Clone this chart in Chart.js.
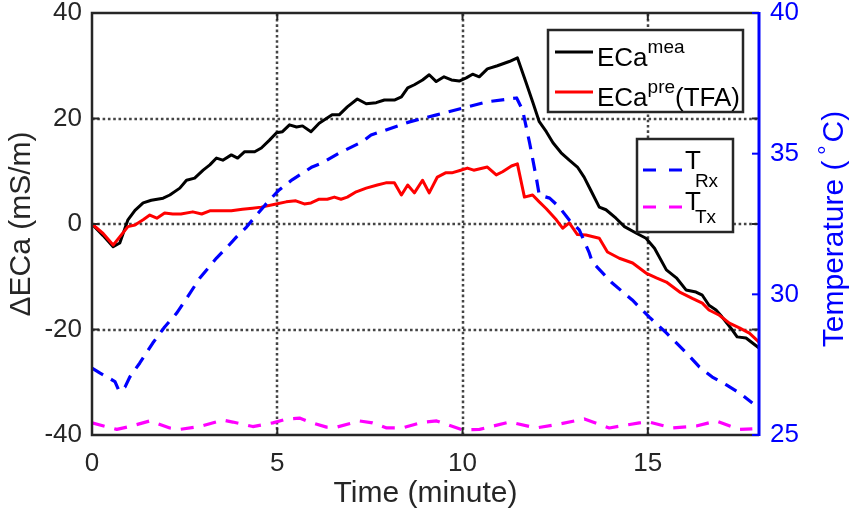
<!DOCTYPE html>
<html>
<head>
<meta charset="utf-8">
<script src="https://cdn.jsdelivr.net/npm/chart.js@4.4.1/dist/chart.umd.min.js"></script>
<style>
  body { margin: 0; background: #fff; }
  #wrap { position: relative; width: 852px; height: 513px; }
</style>
</head>
<body>
<div id="wrap"><canvas id="chart"></canvas></div>
<script>
const FONT = '"Liberation Sans", Arial, Helvetica, sans-serif';
const AXIS_COLOR = '#262626';
const BLUE = '#0000ff';

// measured ECa change (mS/m)
const meaTime = [0, 0.3, 0.57, 0.75, 0.97, 1.16, 1.38, 1.6, 1.92, 2.1, 2.37, 2.55, 2.77, 3.0, 3.18, 3.36, 3.53, 3.76, 3.93, 4.12,
  4.39, 4.57, 4.79, 4.98, 5.14, 5.33, 5.52, 5.68, 5.91, 6.13, 6.48, 6.67, 6.89, 7.16, 7.4, 7.67, 7.89, 8.16, 8.35, 8.52,
  8.7, 8.92, 9.1, 9.29, 9.5, 9.7, 9.91, 10.1, 10.27, 10.45, 10.67, 10.94, 11.26, 11.48, 11.72, 11.9, 12.07, 12.26, 12.44, 12.66,
  12.88, 13.1, 13.28, 13.46, 13.69, 13.87, 14.14, 14.37, 14.68, 14.95, 15.18, 15.5, 15.77, 16.03, 16.3, 16.47, 16.65, 16.84, 17.0, 17.28,
  17.41, 17.65, 18];
const meaValues = [0, -2.2, -4.3, -3.6, 0.8, 2.6, 4, 4.5, 4.9, 5.5, 6.8, 8.3, 8.7, 10.2, 11.2, 12.5, 12.1, 13.1, 12.5, 13.7,
  13.7, 14.4, 15.9, 17.3, 17.5, 18.8, 18.4, 18.6, 17.5, 19.1, 20.7, 20.7, 22.2, 23.7, 22.8, 23, 23.5, 23.5, 24.1, 25.8,
  26.4, 27.3, 28.3, 27, 27.9, 27.3, 27.1, 27.7, 28.4, 27.9, 29.4, 30, 30.8, 31.5, 26.7, 23, 19.4, 17.5, 15.4, 13.5,
  12.1, 10.8, 8.9, 6.4, 3.2, 2.7, 1.1, -0.5, -1.7, -2.7, -4.6, -8.7, -10.2, -12.5, -12.9, -13.5, -15.4, -16.3, -17.6, -20.1,
  -21.4, -21.6, -23.5];

// predicted ECa change, TFA correction (mS/m)
const preTime = [0, 0.3, 0.57, 0.97, 1.16, 1.38, 1.56, 1.75, 1.96, 2.18, 2.4, 2.72, 2.96, 3.18, 3.53, 3.76, 4.06, 4.33, 4.57, 4.97,
  5.24, 5.5, 5.73, 5.91, 6.13, 6.35, 6.54, 6.72, 6.89, 7.13, 7.4, 7.7, 7.93, 8.16, 8.35, 8.52, 8.7, 8.92, 9.1, 9.32,
  9.54, 9.71, 9.95, 10.13, 10.3, 10.67, 10.91, 11.08, 11.32, 11.48, 11.67, 11.89, 12.07, 12.26, 12.53, 12.7, 12.88, 13.1, 13.33, 13.69,
  13.91, 14.23, 14.59, 14.95, 15.23, 15.5, 15.86, 16.2, 16.47, 16.65, 16.93, 17.2, 17.47, 17.74, 18];
const preValues = [0, -1.8, -4, -0.5, -0.2, 0.8, 1.7, 1.1, 2.1, 1.9, 1.9, 2.3, 1.9, 2.5, 2.5, 2.5, 2.8, 3.0, 3.2, 3.8,
  4.2, 4.4, 3.8, 4.0, 4.7, 4.7, 5.1, 4.7, 5.1, 6.1, 6.8, 7.4, 7.8, 7.8, 5.5, 7.4, 5.9, 8.3, 5.9, 8.9,
  9.7, 9.7, 10.2, 10.6, 10.2, 10.8, 9.3, 9.9, 11.0, 11.4, 5.1, 5.5, 4.2, 2.9, 0.8, -0.8, 0.2, -2.0, -2.1, -2.7,
  -5.3, -6.5, -7.4, -9.3, -10.2, -11, -12.9, -14.1, -15, -16.3, -17.3, -18.8, -19.7, -20.7, -22.4];

// receiver coil temperature (°C)
const rxTime = [0, 0.22, 0.62, 0.73, 0.89, 1.02, 1.29, 1.64, 1.96, 2.29, 2.56, 2.91, 3.36, 3.63, 3.9, 4.17, 4.44, 4.79, 5.05, 5.4,
  5.94, 6.21, 6.67, 7.29, 7.53, 8.57, 9.3, 10.0, 10.65, 11.46, 11.62, 11.81, 12.0, 12.07, 12.35, 12.61, 12.88, 13.15, 13.42, 13.5,
  14.04, 14.58, 15.04, 15.5, 16.04, 16.39, 16.74, 17.12, 17.47, 17.82];
const rxValues = [27.38, 27.2, 26.9, 26.56, 26.7, 27.06, 27.56, 28.27, 28.84, 29.34, 29.87, 30.58, 31.29, 31.65, 32.04, 32.39, 32.82, 33.35, 33.71, 34.07,
  34.53, 34.67, 35.02, 35.42, 35.66, 36.13, 36.38, 36.62, 36.84, 36.98, 36.55, 35.38, 34.07, 33.53, 33.42, 33.1, 32.64, 32.29, 31.47, 31.15,
  30.4, 29.8, 29.19, 28.63, 27.92, 27.42, 27.06, 26.78, 26.5, 26.14];

// transmitter coil temperature (°C)
const txTime = [0, 0.67, 1.02, 1.56, 2.1, 2.37, 2.91, 3.53, 3.8, 4.34, 4.88, 5.26, 5.6, 5.88, 6.33, 6.6, 7.22, 7.57, 7.95, 8.38,
  8.9, 9.3, 10.0, 10.46, 11.27, 11.99, 12.61, 13.29, 13.96, 14.77, 15.04, 15.66, 16.31, 16.85, 17.47, 17.82];
const txValues = [25.43, 25.2, 25.3, 25.5, 25.25, 25.2, 25.3, 25.53, 25.46, 25.3, 25.43, 25.57, 25.6, 25.46, 25.28, 25.28, 25.5, 25.43, 25.25, 25.25,
  25.45, 25.5, 25.18, 25.2, 25.46, 25.25, 25.39, 25.57, 25.25, 25.43, 25.46, 25.25, 25.32, 25.5, 25.2, 25.22];

const xTicks = [0, 5, 10, 15];
const leftTicks = [-40, -20, 0, 20, 40];
const rightTicks = [25, 30, 35, 40];

function pairs(xs, ys) {
  return xs.map((x, i) => ({ x: x, y: ys[i] }));
}

// draws a label made of pieces with their own size and baseline shift
function richText(ctx, x, y, parts) {
  let cx = x;
  parts.forEach(p => {
    ctx.font = p.size + 'px ' + FONT;
    cx += p.kern || 0;
    ctx.fillText(p.text, cx, y + (p.dy || 0));
    cx += ctx.measureText(p.text).width;
  });
  return cx;
}

function richWidth(ctx, parts) {
  let w = 0;
  parts.forEach(p => {
    ctx.font = p.size + 'px ' + FONT;
    w += (p.kern || 0) + ctx.measureText(p.text).width;
  });
  return w;
}

// keep the plot box fixed: no extra room for overhanging tick labels
function fixPadding(s) {
  s.paddingTop = 0;
  s.paddingBottom = 0;
  s.paddingLeft = 0;
  s.paddingRight = 0;
}

const framePlugin = {
  id: 'frame',
  beforeDatasetsDraw(chart) {
    const { ctx, chartArea: a, scales } = chart;
    ctx.save();
    ctx.strokeStyle = '#454545';
    ctx.lineWidth = 2.5;
    ctx.setLineDash([2.6, 2.7]);
    xTicks.forEach(v => {
      if (v <= scales.x.min || v >= scales.x.max) return;
      const px = Math.round(scales.x.getPixelForValue(v));
      ctx.beginPath();
      ctx.moveTo(px, a.bottom);
      ctx.lineTo(px, a.top);
      ctx.stroke();
    });
    leftTicks.forEach(v => {
      if (v <= scales.y.min || v >= scales.y.max) return;
      const py = Math.round(scales.y.getPixelForValue(v));
      ctx.beginPath();
      ctx.moveTo(a.left, py);
      ctx.lineTo(a.right, py);
      ctx.stroke();
    });
    ctx.restore();
  },
  afterDatasetsDraw(chart) {
    const { ctx, chartArea: a, scales } = chart;
    const tick = 7;
    ctx.save();
    ctx.setLineDash([]);
    ctx.lineCap = 'butt';
    ctx.strokeStyle = AXIS_COLOR;
    ctx.lineWidth = 2.5;
    ctx.beginPath();
    ctx.moveTo(a.right, a.top);
    ctx.lineTo(a.left, a.top);
    ctx.lineTo(a.left, a.bottom);
    ctx.lineTo(a.right, a.bottom);
    ctx.stroke();

    ctx.lineWidth = 2;
    xTicks.forEach(v => {
      const px = scales.x.getPixelForValue(v);
      ctx.beginPath();
      ctx.moveTo(px, a.bottom);
      ctx.lineTo(px, a.bottom - tick);
      ctx.moveTo(px, a.top);
      ctx.lineTo(px, a.top + tick);
      ctx.stroke();
    });
    leftTicks.forEach(v => {
      const py = scales.y.getPixelForValue(v);
      ctx.beginPath();
      ctx.moveTo(a.left, py);
      ctx.lineTo(a.left + tick, py);
      ctx.moveTo(a.right, py);
      ctx.lineTo(a.right - tick, py);
      ctx.stroke();
    });

    ctx.strokeStyle = BLUE;
    ctx.lineWidth = 2;
    rightTicks.forEach(v => {
      const py = scales.y1.getPixelForValue(v);
      ctx.beginPath();
      ctx.moveTo(a.right, py);
      ctx.lineTo(a.right - tick, py);
      ctx.stroke();
    });
    ctx.lineWidth = 3;
    ctx.beginPath();
    ctx.moveTo(a.right, a.top - 1);
    ctx.lineTo(a.right, a.bottom + 1);
    ctx.stroke();
    ctx.restore();
  },
  afterDraw(chart) {
    const { ctx, chartArea: a } = chart;
    ctx.save();
    ctx.textBaseline = 'alphabetic';
    ctx.textAlign = 'left';

    // right axis title, reading bottom to top
    const tParts = [
      { text: 'Temperature (', size: 30 },
      { text: '\u2218', size: 22, dy: -15, kern: 3 },
      { text: 'C)', size: 30, kern: 1 }
    ];
    ctx.fillStyle = BLUE;
    ctx.translate(843, (a.top + a.bottom) / 2 + 5);
    ctx.rotate(-Math.PI / 2);
    richText(ctx, -richWidth(ctx, tParts) / 2, 0, tParts);
    ctx.setTransform(1, 0, 0, 1, 0, 0);

    // legend boxes
    function box(x, y, w, h) {
      ctx.fillStyle = '#ffffff';
      ctx.fillRect(x, y, w, h);
      ctx.strokeStyle = AXIS_COLOR;
      ctx.lineWidth = 2.5;
      ctx.setLineDash([]);
      ctx.strokeRect(x, y, w, h);
    }
    function sample(x0, x1, y, color, dash) {
      ctx.strokeStyle = color;
      ctx.lineWidth = 3;
      ctx.setLineDash(dash);
      ctx.beginPath();
      ctx.moveTo(x0, y);
      ctx.lineTo(x1, y);
      ctx.stroke();
      ctx.setLineDash([]);
    }

    box(548, 30, 195, 82);
    sample(555, 593, 52, '#000000', []);
    sample(555, 593, 92, '#ff0000', []);
    ctx.fillStyle = '#000000';
    richText(ctx, 597, 66, [
      { text: 'ECa', size: 26 },
      { text: 'mea', size: 19, dy: -13 }
    ]);
    richText(ctx, 597, 106, [
      { text: 'ECa', size: 26 },
      { text: 'pre', size: 19, dy: -13 },
      { text: '(TFA)', size: 26 }
    ]);

    box(637, 139, 96, 93);
    sample(643, 682, 170, BLUE, [13, 13]);
    sample(643, 682, 207, '#ff00ff', [13, 13]);
    ctx.fillStyle = '#000000';
    richText(ctx, 685, 169, [
      { text: 'T', size: 26 },
      { text: 'Rx', size: 19, dy: 18, kern: -6 }
    ]);
    richText(ctx, 685, 210, [
      { text: 'T', size: 26 },
      { text: 'Tx', size: 19, dy: 13, kern: -6 }
    ]);
    ctx.restore();
  }
};

Chart.defaults.font.family = FONT;

new Chart(document.getElementById('chart'), {
  type: 'line',
  data: {
    datasets: [
      {
        label: 'ECa mea',
        data: pairs(meaTime, meaValues),
        borderColor: '#000000',
        borderWidth: 3,
        yAxisID: 'y',
        order: 4
      },
      {
        label: 'ECa pre (TFA)',
        data: pairs(preTime, preValues),
        borderColor: '#ff0000',
        borderWidth: 3,
        yAxisID: 'y',
        order: 3
      },
      {
        label: 'T Rx',
        data: pairs(rxTime, rxValues),
        borderColor: BLUE,
        borderWidth: 3.2,
        borderDash: [13, 9],
        yAxisID: 'y1',
        order: 2
      },
      {
        label: 'T Tx',
        data: pairs(txTime, txValues),
        borderColor: '#ff00ff',
        borderWidth: 3.2,
        borderDash: [13, 10],
        yAxisID: 'y1',
        order: 1
      }
    ]
  },
  options: {
    responsive: true,
    maintainAspectRatio: false,
    animation: false,
    layout: { padding: { top: 13, left: 0, right: 0, bottom: 0 } },
    elements: {
      point: { radius: 0, hoverRadius: 0 },
      line: { tension: 0, fill: false, borderJoinStyle: 'round' }
    },
    plugins: {
      legend: { display: false },
      tooltip: { enabled: false }
    },
    scales: {
      x: {
        type: 'linear',
        min: 0,
        max: 18,
        afterBuildTicks: s => { s.ticks = xTicks.map(v => ({ value: v })); },
        afterFit: s => { s.height = 78; fixPadding(s); },
        grid: { display: false, drawTicks: false },
        border: { display: false },
        ticks: { color: AXIS_COLOR, font: { size: 26 }, padding: 13, maxRotation: 0, autoSkip: false },
        title: {
          display: true,
          text: 'Time (minute)',
          color: AXIS_COLOR,
          font: { size: 30 },
          padding: { top: 0, bottom: 1 }
        }
      },
      y: {
        position: 'left',
        min: -40,
        max: 40,
        afterBuildTicks: s => { s.ticks = leftTicks.map(v => ({ value: v })); },
        afterFit: s => { s.width = 92; fixPadding(s); },
        grid: { display: false, drawTicks: false },
        border: { display: false },
        ticks: { color: AXIS_COLOR, font: { size: 26 }, padding: 10 },
        title: {
          display: true,
          text: '\u0394ECa (mS/m)',
          color: AXIS_COLOR,
          font: { size: 30 },
          padding: { top: 4, bottom: 0 }
        }
      },
      y1: {
        position: 'right',
        min: 25,
        max: 40,
        afterBuildTicks: s => { s.ticks = rightTicks.map(v => ({ value: v })); },
        afterFit: s => { s.width = 93; fixPadding(s); },
        grid: { display: false, drawTicks: false },
        border: { display: false },
        ticks: { color: BLUE, font: { size: 26 }, padding: 11 }
      }
    }
  },
  plugins: [framePlugin]
});
</script>
</body>
</html>
